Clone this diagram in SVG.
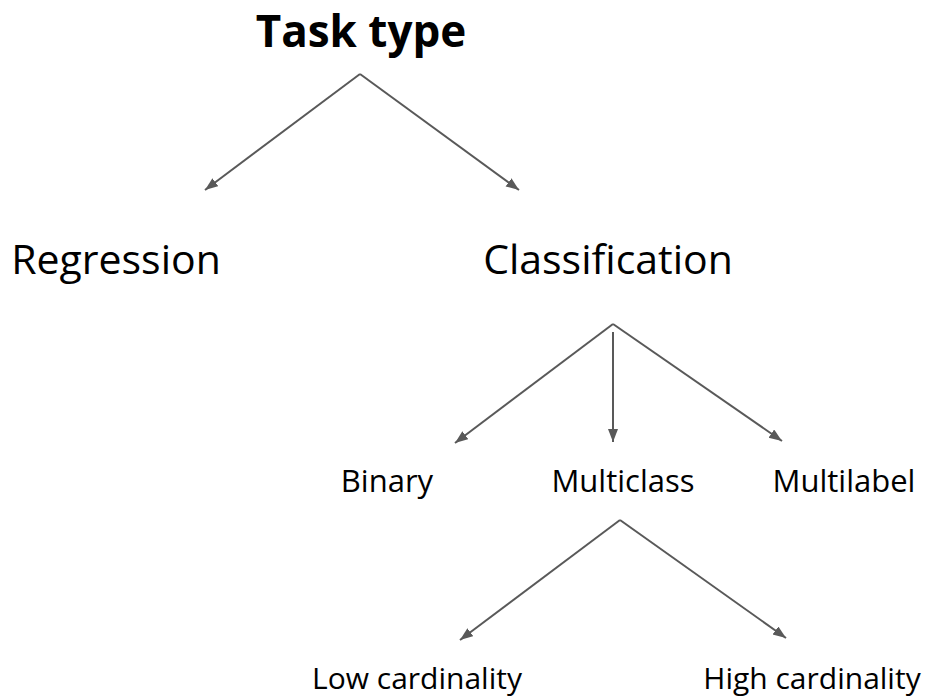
<svg xmlns="http://www.w3.org/2000/svg" width="929" height="698" viewBox="0 0 929 698">
<style>
  text { font-family: "Open Sans", "Noto Sans", "Liberation Sans", sans-serif; fill: #000; text-anchor: middle; }
  .root { font-size: 44px; font-weight: 700; }
  .l2 { font-size: 41px; }
  .l3 { font-size: 31px; }
  .l4 { font-size: 30px; }
  .edge { stroke: #595959; stroke-width: 2; fill: none; marker-end: url(#arrow); }
</style>
<defs>
  <marker id="arrow" markerUnits="userSpaceOnUse" markerWidth="14" markerHeight="11" refX="13" refY="5" orient="auto">
    <path d="M0,0 L13,5 L0,10 z" fill="#595959"/>
  </marker>
</defs>
<rect width="929" height="698" fill="#fff"/>
<g id="connectors">
  <line class="edge" x1="360" y1="74" x2="205" y2="190"/>
  <line class="edge" x1="360" y1="74" x2="519" y2="190"/>
  <line class="edge" x1="613" y1="324" x2="455" y2="443"/>
  <line class="edge" x1="613" y1="332" x2="613" y2="442"/>
  <line class="edge" x1="613" y1="324" x2="782" y2="441"/>
  <line class="edge" x1="620" y1="520" x2="460" y2="640"/>
  <line class="edge" x1="620" y1="520" x2="786" y2="638"/>
</g>
<g id="task-type"><text class="root" x="361" y="47">Task type</text></g>
<g id="regression"><text class="l2" x="116" y="274">Regression</text></g>
<g id="classification"><text class="l2" x="608" y="274">Classification</text></g>
<g id="binary"><text class="l3" x="387" y="492">Binary</text></g>
<g id="multiclass"><text class="l3" x="623" y="492">Multiclass</text></g>
<g id="multilabel"><text class="l3" x="844" y="492">Multilabel</text></g>
<g id="low-cardinality"><text class="l4" x="417" y="689">Low cardinality</text></g>
<g id="high-cardinality"><text class="l4" x="812" y="689">High cardinality</text></g>
</svg>
